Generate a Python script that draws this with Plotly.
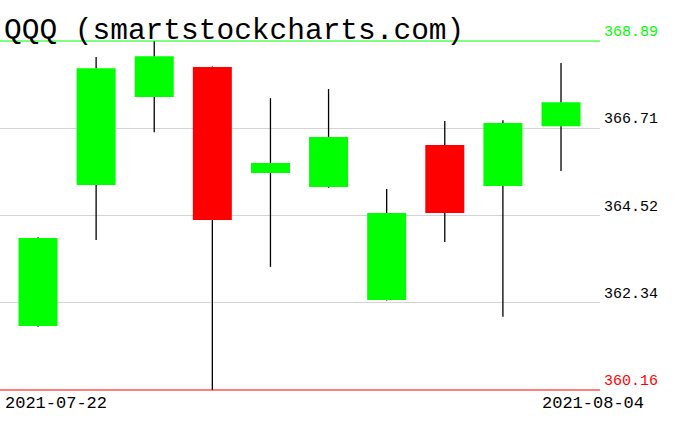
import plotly.graph_objects as go

dates = ["2021-07-22", "2021-07-23", "2021-07-26", "2021-07-27", "2021-07-28",
         "2021-07-29", "2021-07-30", "2021-08-02", "2021-08-03", "2021-08-04"]
opens = [361.76, 365.29, 367.49, 368.24, 365.59, 365.24, 362.41, 366.29, 365.26, 366.76]
closes = [363.96, 368.21, 368.51, 364.41, 365.84, 366.49, 364.59, 364.59, 366.84, 367.36]
highs = [363.98, 368.49, 368.89, 368.25, 367.46, 367.69, 365.19, 366.89, 366.91, 368.34]
lows = [361.74, 363.91, 366.61, 360.16, 363.24, 365.22, 362.40, 363.86, 361.99, 365.64]
y_ticks = [360.16, 362.34, 364.52, 366.71, 368.89]
y_tick_labels = ["360.16", "362.34", "364.52", "366.71", "368.89"]
title_text = "QQQ (smartstockcharts.com)"

GREEN = "#00ff00"
RED = "#ff0000"
FONT = "Liberation Mono"

idx = list(range(len(dates)))
lo_all, hi_all = min(lows), max(highs)

# wick segments (outside the bodies)
wx, wy = [], []
for i, o, c, h, l in zip(idx, opens, closes, highs, lows):
    top, bot = max(o, c), min(o, c)
    wx += [i, i, None, i, i, None]
    wy += [h, top, None, bot, l, None]

fig = go.Figure()
fig.add_trace(go.Scatter(x=wx, y=wy, mode="lines", line=dict(color="black", width=1.3),
                         hoverinfo="skip", showlegend=False))
fig.add_trace(go.Bar(
    x=idx,
    y=[abs(c - o) for o, c in zip(opens, closes)],
    base=[min(o, c) for o, c in zip(opens, closes)],
    width=0.671,
    marker=dict(color=[GREEN if c >= o else RED for o, c in zip(opens, closes)],
                line=dict(width=0)),
    showlegend=False,
))

pad = 0.025
fig.update_layout(
    width=676, height=431,
    margin=dict(l=0, r=76, t=40, b=40),
    paper_bgcolor="white", plot_bgcolor="white",
    showlegend=False,
    xaxis=dict(range=[-0.654, 9.671], showgrid=False, zeroline=False,
               showticklabels=False, ticks="", fixedrange=True),
    yaxis=dict(range=[lo_all - pad, hi_all + pad], showgrid=True,
               tickvals=y_ticks[1:-1], gridcolor="#d3d3d3", gridwidth=1,
               showticklabels=False, ticks="", zeroline=False,
               layer="above traces", fixedrange=True),
)

# top / bottom range lines
fig.add_shape(type="line", xref="paper", x0=0, x1=1, yref="y", y0=hi_all, y1=hi_all,
              line=dict(color=GREEN, width=1.2), layer="above")
fig.add_shape(type="line", xref="paper", x0=0, x1=1, yref="y", y0=lo_all, y1=lo_all,
              line=dict(color=RED, width=1.2), layer="above")

# y labels
for v, t in zip(y_ticks, y_tick_labels):
    col = GREEN if v == y_ticks[-1] else (RED if v == y_ticks[0] else "black")
    fig.add_annotation(xref="paper", x=1, xanchor="left", xshift=2,
                       yref="y", y=v, yanchor="bottom", yshift=-2,
                       text=t, showarrow=False,
                       font=dict(family=FONT, size=15, color=col))

# date labels
fig.add_annotation(xref="x", x=idx[0], xanchor="left", xshift=-35,
                   yref="paper", y=0, yanchor="top", yshift=-1,
                   text=dates[0], showarrow=False,
                   font=dict(family=FONT, size=17, color="black"))
fig.add_annotation(xref="x", x=idx[-1], xanchor="left", xshift=-21,
                   yref="paper", y=0, yanchor="top", yshift=-1,
                   text=dates[-1], showarrow=False,
                   font=dict(family=FONT, size=17, color="black"))

# title
fig.add_annotation(xref="paper", x=0, xanchor="left", xshift=2,
                   yref="paper", y=1, yanchor="bottom", yshift=-10,
                   text=title_text, showarrow=False,
                   font=dict(family=FONT, size=29.5, color="black"))

fig.write_html("out.html", config={"displayModeBar": False},
               post_script="document.body.style.margin='0';")
